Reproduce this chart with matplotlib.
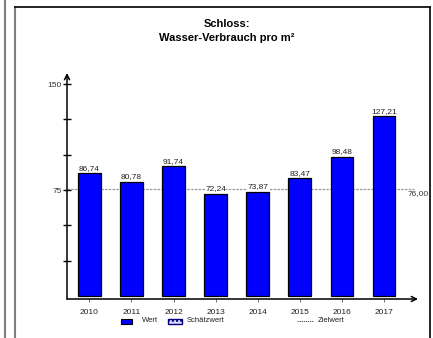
import matplotlib
matplotlib.use("Agg")
import matplotlib.pyplot as plt
import numpy as np
from matplotlib.lines import Line2D
from matplotlib.patches import Rectangle

years = ["2010", "2011", "2012", "2013", "2014", "2015", "2016", "2017"]
values = [86.74, 80.78, 91.74, 72.24, 73.87, 83.47, 98.48, 127.21]
target = 76.00
y_ticks = [25, 50, 75, 100, 125, 150]
y_labels = ["", "", "75", "", "", "150"]

plt.rcParams['font.family'] = ['Liberation Sans', 'DejaVu Sans']

W, H = 433, 338
fig = plt.figure(figsize=(W / 100, H / 100), dpi=100)


def fx(px):
    return px / W


def fy(py):
    return 1 - py / H


# outer frame lines
for x0, y0, x1, y1, c, lw in [(4.8, 0, 4.8, H, '#808080', 1.5),
                              (14.8, 7, 14.8, H, '#808080', 1.5),
                              (15, 6.8, 430, 6.8, 'black', 1.2),
                              (430, 6.8, 430, H, 'black', 1.2)]:
    fig.add_artist(Line2D([fx(x0), fx(x1)], [fy(y0), fy(y1)], color=c, lw=lw))

# axes placed in pixel coordinates
ax_l, ax_r, ax_t, ax_b = 67, 418, 73, 299
ax = fig.add_axes([fx(ax_l), fy(ax_b), fx(ax_r - ax_l), (ax_b - ax_t) / H])

x = np.arange(len(years))
ax.bar(x, values, width=0.54, color='#0000FF', edgecolor='black', linewidth=0.9, zorder=3)
ax.set_xlim(-0.53, 7.807)
ax.set_ylim(-2.1, 157.8)

ax.axhline(target, xmin=0, xmax=0.99, color='#999999', lw=0.9, ls=(0, (2, 1)), zorder=1)
ax.text(1.0, target - 3.5, "76,00", transform=ax.get_yaxis_transform(), ha='center', va='center',
        fontsize=6, color='#333333', clip_on=False)

for xi, v in zip(x, values):
    ax.text(xi, v + 1.0, f"{v:.2f}".replace('.', ','), ha='center', va='bottom', fontsize=6,
            color='#222222', zorder=4,
            bbox=dict(facecolor='white', edgecolor='none', pad=0.3) if abs(v - target) < 6 else None)

for s in ax.spines.values():
    s.set_visible(False)

ax.annotate('', xy=(1.0, 0), xytext=(0, 0), xycoords='axes fraction',
            arrowprops=dict(arrowstyle='->', lw=1.1, color='black', shrinkA=0, shrinkB=0,
                            mutation_scale=9))
ax.annotate('', xy=(0, 1.0), xytext=(0, 0), xycoords='axes fraction',
            arrowprops=dict(arrowstyle='->', lw=1.1, color='black', shrinkA=0, shrinkB=0,
                            mutation_scale=9))

ax.set_yticks(y_ticks)
ax.set_yticklabels(y_labels, fontsize=6, color='#333333')
ax.tick_params(axis='y', direction='inout', length=6, width=1, pad=1)
ax.set_xticks(x)
ax.set_xticklabels(years, fontsize=6, color='#222222')
ax.tick_params(axis='x', direction='out', length=2, width=0.6, pad=5, color='#555555')

fig.text(fx(227), fy(24), "Schloss:", ha='center', va='center', fontsize=8, fontweight='bold')
fig.text(fx(227), fy(38), "Wasser-Verbrauch pro m²", ha='center', va='center', fontsize=8,
         fontweight='bold')

# legend
ly = 321
fig.add_artist(Rectangle((fx(121), fy(ly + 2.5)), fx(11), 5 / H, facecolor='#0000FF',
                         edgecolor='black', lw=0.8))
fig.text(fx(142), fy(ly), "Wert", ha='left', va='center', fontsize=5.5, color='#222222')
fig.add_artist(Rectangle((fx(168), fy(ly + 2.5)), fx(14), 5 / H, facecolor='#dcdcff',
                         edgecolor='#000080', lw=1.0, hatch='....'))
fig.text(fx(187), fy(ly), "Schätzwert", ha='left', va='center', fontsize=5.5, color='#222222')
fig.add_artist(Line2D([fx(297), fx(313)], [fy(ly), fy(ly)], color='#333333', lw=0.6,
                      ls=(0, (1.5, 1))))
fig.text(fx(318), fy(ly), "Zielwert", ha='left', va='center', fontsize=5.5, color='#222222')

fig.savefig("out.png", dpi=100)
